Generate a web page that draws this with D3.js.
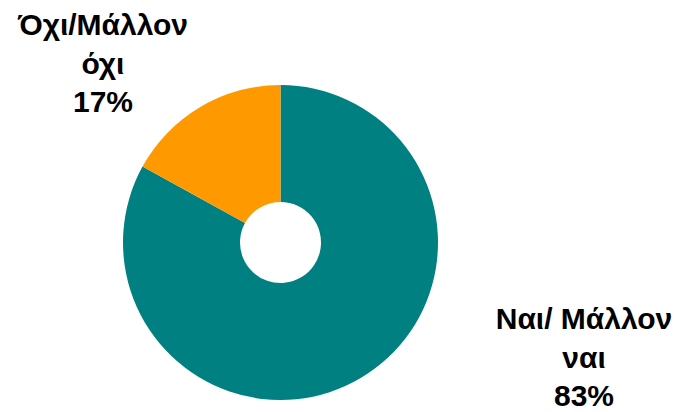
<!DOCTYPE html>
<html><head><meta charset="utf-8">
<script src="https://cdn.jsdelivr.net/npm/d3@7"></script>
<style>body{margin:0;background:#fff}svg{display:block}</style>
</head><body>
<svg id="c" width="682" height="412"></svg>
<script>
const categories = ["Ναι/ Μάλλον ναι", "Όχι/Μάλλον όχι"];
const values = [83, 17];
const colors = ["#008080", "#FF9900"];
const labelLines = [["Ναι/ Μάλλον", "ναι", "83%"], ["Όχι/Μάλλον", "όχι", "17%"]];

const svg = d3.select("#c");
const cx = 280.5, cy = 242.5, rOuter = 157.5, rInner = 40.5;
const pie = d3.pie().sort(null).value(d => d)(values);
const arc = d3.arc().innerRadius(rInner).outerRadius(rOuter);
const g = svg.append("g").attr("transform", `translate(${cx},${cy})`);
g.selectAll("path").data(pie).join("path")
  .attr("d", arc).attr("fill", (d, i) => colors[i]);

const labelPos = [[584, 329], [103, 35]];
labelLines.forEach((lines, i) => {
  const t = svg.append("text")
    .attr("text-anchor", "middle")
    .attr("font-family", "Liberation Sans, Arial, sans-serif")
    .attr("font-weight", "bold").attr("font-size", 30).attr("fill", "#000");
  lines.forEach((ln, j) => {
    t.append("tspan").attr("x", labelPos[i][0]).attr("y", labelPos[i][1] + j * 38.5).text(ln);
  });
});
</script>
</body></html>
